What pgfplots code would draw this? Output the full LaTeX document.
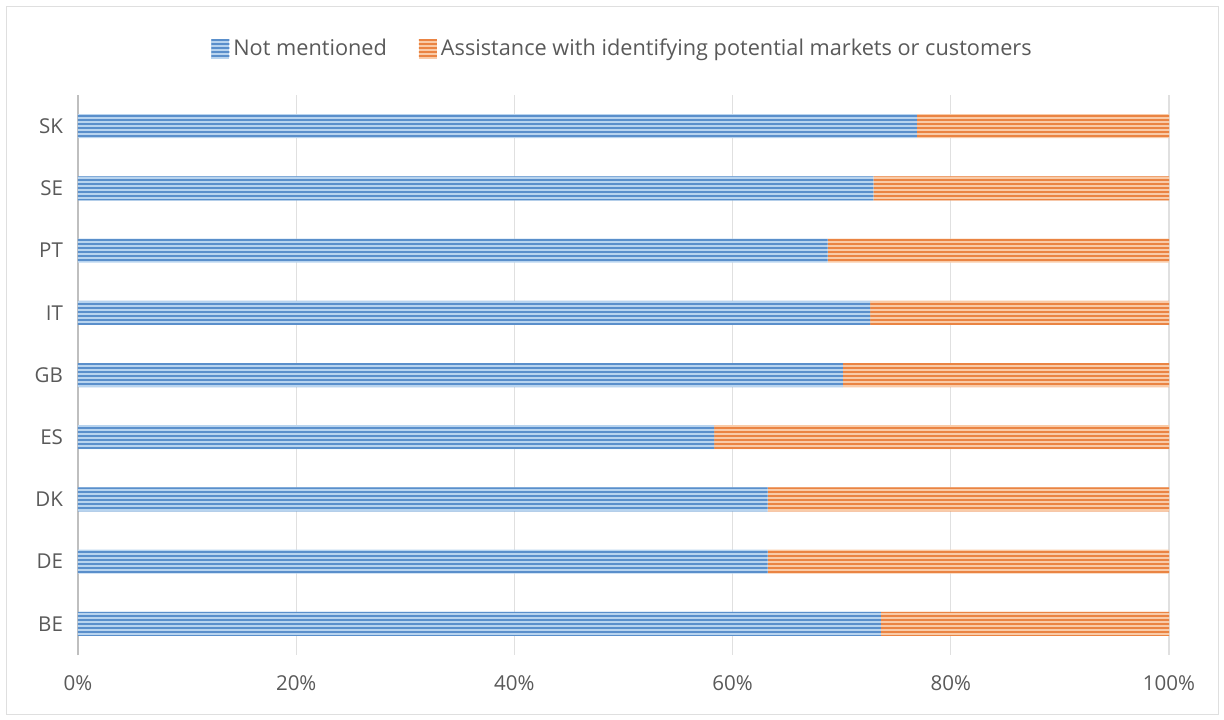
\documentclass[border=0pt]{standalone}
\usepackage{fontspec}
\setmainfont{Open Sans}
\usepackage{pgfplots}
\pgfplotsset{compat=1.18}
\usetikzlibrary{patterns.meta}
\definecolor{bluebg}{HTML}{B8D4EF}
\definecolor{blueln}{HTML}{5A8FCB}
\definecolor{orgbg}{HTML}{F9CBA8}
\definecolor{orgln}{HTML}{EA8443}
\definecolor{txtgray}{HTML}{595959}
\definecolor{gridgray}{HTML}{E0E0E0}
\definecolor{axisgray}{HTML}{BFBFBF}
\begin{document}
\begin{tikzpicture}
\path[use as bounding box] (0,0) rectangle (612bp,360bp);
\draw[draw=gray!25] (3bp,3bp) rectangle (609bp,357bp);
\begin{axis}[
  at={(39bp,32.5bp)}, anchor=south west,
  width=545.5bp, height=280bp, scale only axis,
  xbar stacked, bar width=12bp,
  xmin=0, xmax=100, ymin=-0.5, ymax=8.5,
  ytick={0,...,8}, yticklabels={BE,DE,DK,ES,GB,IT,PT,SE,SK},
  xtick={0,20,...,100}, xticklabel={\pgfmathprintnumber{\tick}\%},
  /pgf/number format/assume math mode=true,
  xmajorgrids, major grid style={draw=gridgray, line width=0.6bp},
  axis y line*=left, axis x line*=bottom,
  x axis line style={draw=none},
  y axis line style={draw=axisgray, line width=1.1bp},
  major tick length=0pt,
  tick label style={font=\fontsize{10.3}{12}\selectfont, text=txtgray},
  xticklabel style={yshift=-7bp},
  yticklabel style={xshift=-4bp},
  legend style={at={(0.5,1)}, anchor=south, yshift=14bp, draw=none, fill=none,
    font=\fontsize{10.9}{12}\selectfont, text=txtgray, legend columns=2,
    /tikz/every even column/.append style={column sep=14bp}},
  legend image code/.code={\draw[#1, draw=none] (0bp,-5bp) rectangle (9bp,5bp);},
  every axis plot/.append style={draw=none},
]
\addplot[fill=bluebg, postaction={pattern={Lines[angle=0,distance=2bp,line width=0.8bp]}, pattern color=blueln}]
 coordinates {(73.6,0) (63.2,1) (63.2,2) (58.3,3) (70.1,4) (72.6,5) (68.7,6) (72.9,7) (76.9,8)};
\addplot[fill=orgbg, postaction={pattern={Lines[angle=0,distance=2bp,line width=0.8bp]}, pattern color=orgln}]
 coordinates {(26.4,0) (36.8,1) (36.8,2) (41.7,3) (29.9,4) (27.4,5) (31.3,6) (27.1,7) (23.1,8)};
\legend{Not mentioned, Assistance with identifying potential markets or customers}
\end{axis}
\end{tikzpicture}
\end{document}
